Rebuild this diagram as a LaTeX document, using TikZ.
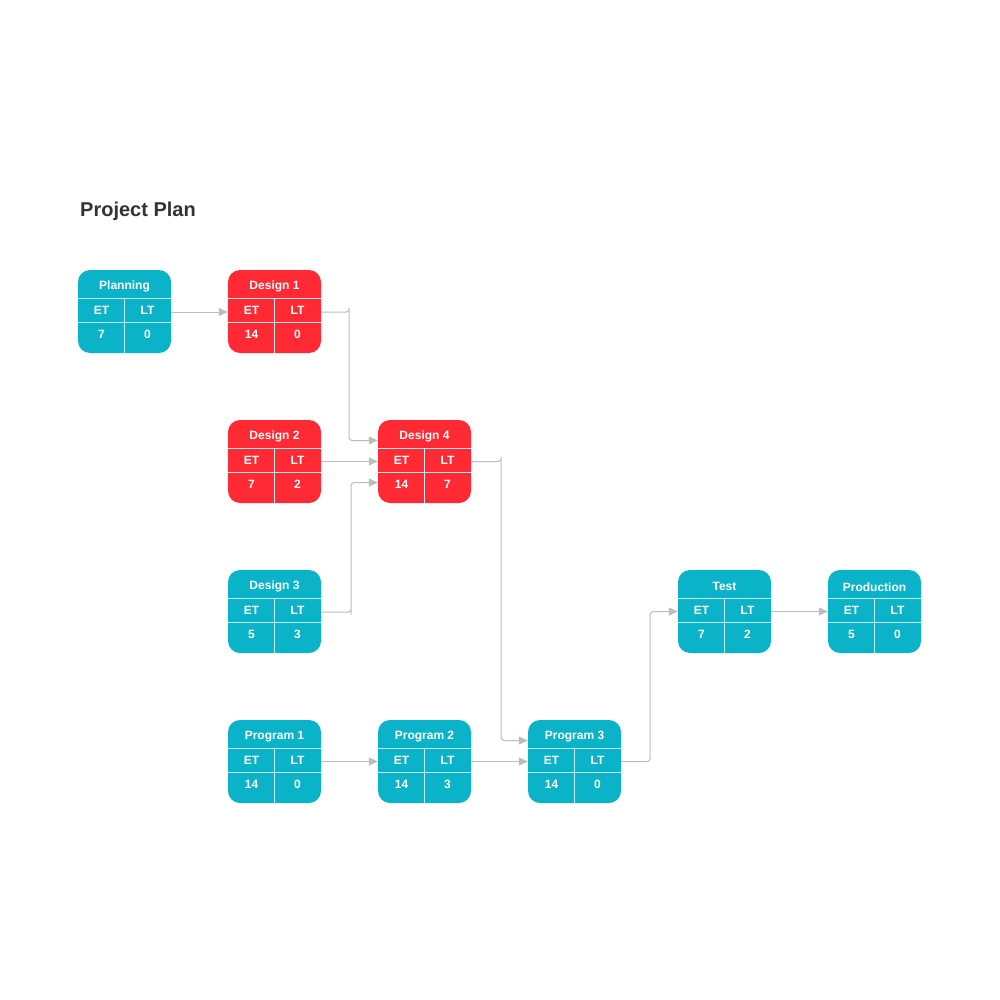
\documentclass[tikz,border=0pt]{standalone}
\usepackage{fontspec}
\setmainfont{Liberation Sans}
\usetikzlibrary{calc,arrows.meta}
\definecolor{teal}{HTML}{0AB3C8}
\definecolor{red}{HTML}{FF2A33}
\definecolor{conn}{HTML}{BDBDBD}
\tikzset{
 box/.style={draw=none,fill=#1,rounded corners=12pt,minimum width=93pt,minimum height=83pt,inner sep=0pt},
 lbl/.style={text=white,font=\bfseries\fontsize{12}{12}\selectfont,inner sep=0pt},
 sep/.style={draw=white!75!teal,line width=0.8pt},
 con/.style={draw=conn,line width=1pt,-{Triangle[length=9pt,width=8pt]}},
}
\newcommand{\pnode}[7]{%
 \node[box=#7] (#1) at (#2+46.5,-#3-41.5) {};
 \draw[sep] ($(#1.north west)+(0,-29)$) -- ($(#1.north east)+(0,-29)$);
 \draw[sep] ($(#1.north west)+(0,-53)$) -- ($(#1.north east)+(0,-53)$);
 \draw[sep] ($(#1.north)+(0,-29)$) -- (#1.south);
 \node[lbl] (#1t) at ($(#1.north)+(0,-17)$) {#4};
 \node[lbl] (#1a) at ($(#1.north)+(-23,-41)$) {ET};
 \node[lbl] (#1b) at ($(#1.north)+(23,-41)$) {LT};
 \node[lbl] (#1c) at ($(#1.north)+(-23,-65)$) {#5};
 \node[lbl] (#1d) at ($(#1.north)+(23,-65)$) {#6};
}
\begin{document}
\begin{tikzpicture}[x=1pt,y=1pt]
\useasboundingbox[fill=white] (0,0) rectangle (1000,-1000);
\node[anchor=base west,inner sep=0pt,text=black!80,font=\bfseries\fontsize{20}{20}\selectfont] (title) at (80,-217) {Project Plan};
\pnode{pl}{78}{270}{Planning}{7}{0}{teal}
\pnode{d1}{228}{270}{Design 1}{14}{0}{red}
\pnode{d2}{228}{420}{Design 2}{7}{2}{red}
\pnode{d4}{378}{420}{Design 4}{14}{7}{red}
\pnode{d3}{228}{570}{Design 3}{5}{3}{teal}
\pnode{te}{678}{570}{Test}{7}{2}{teal}
\pnode{pr}{828}{570}{Production}{5}{0}{teal}
\pnode{p1}{228}{720}{Program 1}{14}{0}{teal}
\pnode{p2}{378}{720}{Program 2}{14}{3}{teal}
\pnode{p3}{528}{720}{Program 3}{14}{0}{teal}
\draw[con] ($(pl.west-|pl.east)+(0,-0.5)$) -- ($(d1.west)+(0,-0.5)$);
\draw[con,rounded corners=3pt] ($(d1.east)+(0,-0.5)$) -| ($(d1.east)+(28,0)$) |- ($(d4.west)+(0,21)$);
\draw[con] (d2.east) -- (d4.west);
\draw[con,rounded corners=3pt] ($(d3.east)+(0,-0.5)$) -| ($(d3.east)+(30,0)$) |- ($(d4.west)+(0,-21)$);
\draw[con,rounded corners=3pt] (d4.east) -| ($(d4.east)+(30,0)$) |- ($(p3.west)+(0,21)$);
\draw[con] (p1.east) -- (p2.west);
\draw[con] (p2.east) -- (p3.west);
\draw[con,rounded corners=3pt] (p3.east) -| ($(p3.east)+(29,0)$) |- (te.west);
\draw[con] (te.east) -- (pr.west);
\end{tikzpicture}
\end{document}
